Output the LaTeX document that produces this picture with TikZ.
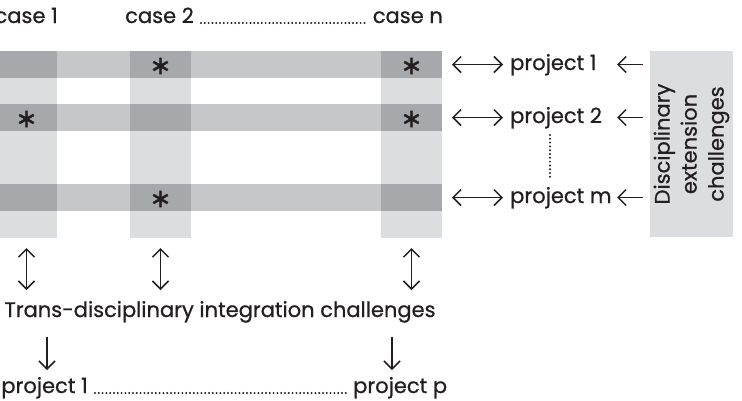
\documentclass[tikz,border=0pt]{standalone}
\usepackage{fontspec}
\setmainfont{Poppins}[FakeBold=0.7]
\newfontfamily\symfont{DejaVu Sans}[FakeBold=1.2]
\usetikzlibrary{arrows.meta}
\definecolor{inter}{HTML}{A7A8AB}
\definecolor{rowc}{HTML}{C6C7C9}
\definecolor{colc}{HTML}{DCDDDF}
\definecolor{ink}{HTML}{231F20}
\begin{document}
\begin{tikzpicture}[x=1pt,y=-1pt,
  lbl/.style={font=\fontsize{21}{24}\selectfont, text=ink, inner sep=0pt},
  colband/.style={fill=colc, draw=none},
  rowband/.style={fill=rowc, draw=none},
  cross/.style={fill=inter, draw=none},
  star/.style={font=\symfont\fontsize{26}{26}\selectfont, text=ink, inner sep=0pt},
  tip/.tip={Straight Barb[length=8pt,width=16pt,line width=1.5pt]},
  harr/.style={draw=ink, line width=1.5pt, -tip},
  darr/.style={draw=ink, line width=1.5pt, tip-tip},
  dotline/.style={draw=ink, line width=2.2pt, line cap=round, dash pattern=on 0pt off 3.8pt},
  boxc/.style={fill=colc, draw=none, minimum width=83pt, minimum height=186pt, inner sep=0pt}
]
\useasboundingbox (0,0) rectangle (742,400);
% columns
\fill[colband] (-4,51) rectangle (57,238);
\fill[colband] (130,51) rectangle (191,238);
\fill[colband] (381,51) rectangle (442,238);
% rows
\fill[rowband] (-4,51) rectangle (442,78);
\fill[rowband] (-4,104) rectangle (442,131);
\fill[rowband] (-4,184) rectangle (442,211);
% intersections
\foreach \x in {-4,130,381}{
  \foreach \y in {51,104,184}{
    \fill[cross] (\x,\y) rectangle ++(61,27);
  }
}
% asterisks
\node[star] (s12) at (160.5,66) {∗};
\node[star] (s1n) at (411.5,66) {∗};
\node[star] (s21) at (26.5,119) {∗};
\node[star] (s2n) at (411.5,119) {∗};
\node[star] (sm2) at (160.5,199) {∗};
% top labels
\node[lbl, anchor=base east] (case1) at (58,23) {case 1};
\node[lbl, anchor=base west] (case2) at (125,23) {case 2};
\node[lbl, anchor=base east] (casen) at (443,23) {case n};
\draw[dotline] ([xshift=7pt]case2.base east) -- ([xshift=-7pt]casen.base west);
% right side projects
\coordinate (a1) at (452,64.5); \coordinate (b1) at (503,64.5);
\coordinate (a2) at (452,117.5); \coordinate (b2) at (503,117.5);
\coordinate (am) at (452,197.5); \coordinate (bm) at (503,197.5);
\draw[darr] (a1) -- (b1);
\draw[darr] (a2) -- (b2);
\draw[darr] (am) -- (bm);
\node[lbl, anchor=base west] (p1) at (510,70) {project 1};
\node[lbl, anchor=base west] (p2) at (510,123) {project 2};
\node[lbl, anchor=base west] (pm) at (510,203) {project m};
\draw[dotline] (550,135) -- (550,177);
\node[boxc] (dbox) at (691.5,144) {};
\node[lbl, rotate=90, align=center, font=\fontsize{21}{27}\selectfont] (dtext) at (dbox.center) {Disciplinary\\extension\\challenges};
\coordinate (l1a) at (643,64.5); \coordinate (l1b) at (617,64.5);
\coordinate (l2a) at (643,117.5); \coordinate (l2b) at (617,117.5);
\coordinate (lma) at (643,197.5); \coordinate (lmb) at (617,197.5);
\draw[harr] (l1a) -- (l1b);
\draw[harr] (l2a) -- (l2b);
\draw[harr] (lma) -- (lmb);
% bottom
\coordinate (v1t) at (26.5,248); \coordinate (v1b) at (26.5,290);
\coordinate (v2t) at (160.5,248); \coordinate (v2b) at (160.5,290);
\coordinate (vnt) at (411.5,248); \coordinate (vnb) at (411.5,290);
\draw[darr] (v1t) -- (v1b);
\draw[darr] (v2t) -- (v2b);
\draw[darr] (vnt) -- (vnb);
\node[lbl, anchor=base] (trans) at (220,317) {Trans-disciplinary integration challenges};
\node[lbl, anchor=base east] (q1) at (88,393) {project 1};
\node[lbl, anchor=base west] (qp) at (353,393) {project p};
\coordinate (d1t) at (47,337); \coordinate (d1b) at (47,370);
\coordinate (d2t) at (392,337); \coordinate (d2b) at (392,370);
\draw[harr] (d1t) -- (d1b);
\draw[harr] (d2t) -- (d2b);
\draw[dotline] ([xshift=7pt]q1.base east) -- ([xshift=-7pt]qp.base west);
\end{tikzpicture}
\end{document}
